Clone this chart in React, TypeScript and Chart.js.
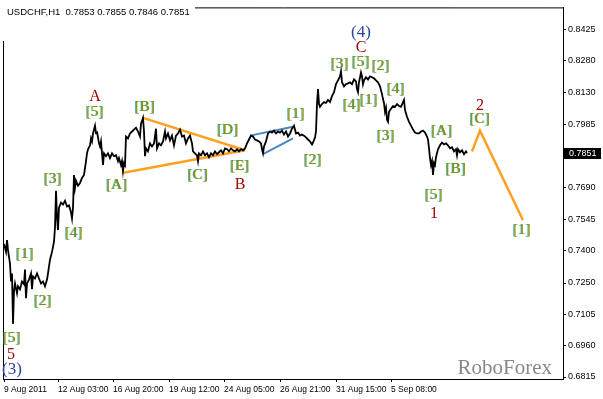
import React, { useEffect, useRef } from "react";
import { Chart, registerables } from "chart.js";

Chart.register(...registerables);

const symbolTitle = "USDCHF,H1  0.7853 0.7855 0.7846 0.7851";
const lastPrice = 0.7851;

// hourly bar index (approx.) and close values
const barIdx = [
  0, 2, 3, 4, 5, 6, 7, 8, 9, 10, 11, 13, 14, 16, 18, 20, 21, 22, 23, 25, 27, 28, 29, 31, 33, 35, 37, 39, 41, 43, 44, 46, 48,
  50, 51, 52, 53, 54, 55, 57, 59, 61, 63, 65, 67, 68, 69, 70, 71, 72, 74, 76, 78, 80, 81, 82, 83, 84, 86, 87, 88, 89, 91,
  92, 93, 95, 96, 97, 99, 100, 102, 104, 106, 108, 110, 112, 114, 115, 117, 118, 119, 120, 121, 122, 124, 126, 128, 130,
  132, 134, 136, 137, 139, 140, 141, 142, 144, 146, 148, 150, 152, 153, 155, 157, 159, 161, 162, 164, 166, 168, 170, 172,
  174, 176, 178, 180, 182, 184, 186, 188, 189, 191, 193, 194, 195, 197, 199, 201, 203, 205, 207, 209, 211, 213, 215, 217,
  219, 221, 223, 225, 227, 229, 231, 233, 235, 237, 239, 241, 243, 245, 247, 249, 251, 253, 255, 257, 258, 259, 260, 262,
  264, 266, 268, 270, 272, 274, 276, 278, 280, 282, 284, 286, 288, 290, 292, 294, 296, 298, 301, 304, 306, 308, 309, 311,
  312, 313, 314, 315, 316, 318, 320, 322, 324, 326, 328, 330, 332, 334, 336, 337, 338, 340, 342, 344, 346, 348, 350, 352,
  353, 354, 355, 357, 358, 359, 360, 362, 364, 366, 368, 370, 372, 374, 376, 378, 379, 380, 381, 382, 383, 384, 385, 387,
  389, 391, 393, 395, 397, 399, 400, 401, 403, 405, 407, 409, 411, 413, 415, 417, 419, 421, 423, 424, 425, 426, 427, 428,
  429, 430, 431, 432, 433, 434, 436, 438, 440, 442, 444, 446, 448, 450, 452, 453, 454, 456, 458, 460, 462, 463,
];
const closes = [
  0.7431, 0.7394, 0.7449, 0.7403, 0.7371, 0.734, 0.7257, 0.7294, 0.7061, 0.7212, 0.7248, 0.7203, 0.7235, 0.7221, 0.7257,
  0.7244, 0.7312, 0.718, 0.7248, 0.7266, 0.7294, 0.7221, 0.728, 0.7271, 0.7294, 0.7271, 0.7248, 0.7257, 0.7235, 0.7266,
  0.7294, 0.7358, 0.7394, 0.744, 0.7508, 0.7677, 0.7554, 0.7495, 0.7599, 0.7622, 0.7613, 0.7631, 0.7604, 0.7609, 0.7577,
  0.7549, 0.7599, 0.775, 0.7691, 0.7723, 0.77, 0.7713, 0.7736, 0.775, 0.7782, 0.7814, 0.785, 0.7869, 0.7887, 0.7919,
  0.7905, 0.7942, 0.7978, 0.7942, 0.7951, 0.7896, 0.7882, 0.7905, 0.7796, 0.785, 0.7837, 0.785, 0.7828, 0.785, 0.7837,
  0.7841, 0.7814, 0.7828, 0.7796, 0.7814, 0.7768, 0.7805, 0.7796, 0.7928, 0.7919, 0.7942, 0.7951, 0.796, 0.7969, 0.7951,
  0.7928, 0.7987, 0.8014, 0.7951, 0.7837, 0.7873, 0.7859, 0.7896, 0.7882, 0.7896, 0.7964, 0.7873, 0.7896, 0.7887, 0.7905,
  0.7951, 0.7919, 0.7942, 0.791, 0.7932, 0.7887, 0.7932, 0.7942, 0.796, 0.7928, 0.7932, 0.7896, 0.7919, 0.7932, 0.7896,
  0.7859, 0.785, 0.7841, 0.7814, 0.785, 0.7841, 0.7859, 0.7841, 0.785, 0.7832, 0.785, 0.7841, 0.7859, 0.7846, 0.7855,
  0.7864, 0.785, 0.7873, 0.7869, 0.7859, 0.7873, 0.7864, 0.7859, 0.7869, 0.7859, 0.7869, 0.7864, 0.7873, 0.7896, 0.7914,
  0.7932, 0.7928, 0.7914, 0.791, 0.7905, 0.7896, 0.7869, 0.785, 0.7882, 0.7905, 0.7942, 0.7951, 0.7946, 0.7955, 0.7942,
  0.7951, 0.7946, 0.7955, 0.7937, 0.7951, 0.7928, 0.7942, 0.7964, 0.7978, 0.7942, 0.7946, 0.7932, 0.7937, 0.7928, 0.7914,
  0.7905, 0.7891, 0.79, 0.7923, 0.7951, 0.8078, 0.8147, 0.8078, 0.8065, 0.8078, 0.8087, 0.8083, 0.8097, 0.8087, 0.8115,
  0.8133, 0.817, 0.8188, 0.8206, 0.8229, 0.8179, 0.816, 0.817, 0.8174, 0.8179, 0.817, 0.8192, 0.8183, 0.8147, 0.8133,
  0.8179, 0.8224, 0.8206, 0.817, 0.8188, 0.8202, 0.8192, 0.8206, 0.8202, 0.8197, 0.8188, 0.8179, 0.816, 0.8124, 0.8101,
  0.8083, 0.8042, 0.806, 0.8005, 0.7996, 0.8042, 0.8056, 0.8069, 0.8065, 0.8078, 0.8069, 0.8065, 0.8087, 0.8097, 0.8051,
  0.8019, 0.7996, 0.7978, 0.796, 0.7946, 0.7942, 0.7942, 0.7951, 0.7955, 0.7946, 0.7928, 0.7914, 0.7873, 0.7828, 0.7796,
  0.7814, 0.775, 0.7805, 0.7796, 0.7832, 0.785, 0.7869, 0.7887, 0.79, 0.7891, 0.7896, 0.7887, 0.7873, 0.7878, 0.7859,
  0.7869, 0.7841, 0.7869, 0.7855, 0.7864, 0.7846, 0.7859, 0.7851,
];

const yTickValues = [0.8425, 0.828, 0.813, 0.7985, 0.769, 0.7545, 0.74, 0.725, 0.7105, 0.696, 0.6815];
const yMin = 0.68058;
const yMax = 0.85253;
const xTickBars = [0, 54, 109, 165, 220, 276, 332, 387];
const xTickLabels = [
  "9 Aug 2011",
  "12 Aug 03:00",
  "16 Aug 20:00",
  "19 Aug 12:00",
  "24 Aug 05:00",
  "26 Aug 21:00",
  "31 Aug 15:00",
  "5 Sep 08:00",
];
const xMin = -1;
const xMax = 559;

// forecast and pattern lines
const forecastBars = [468, 476, 519];
const forecastPrices = [0.7859, 0.7955, 0.754];
const triUpperBars = [139, 241];
const triUpperPrices = [0.8014, 0.7864];
const triLowerBars = [118, 241];
const triLowerPrices = [0.7759, 0.7864];
const wedgeUpperBars = [246, 289];
const wedgeUpperPrices = [0.7932, 0.7973];
const wedgeLowerBars = [259, 289];
const wedgeLowerPrices = [0.7846, 0.7919];

// wave labels
const labelTexts = [
  "[5]", "A", "[3]", "[4]", "[1]", "[2]", "[5]", "5", "(3)", "[A]", "[B]", "[C]", "[D]", "[E]", "B", "[1]", "[2]",
  "(4)", "C", "[3]", "[5]", "[2]", "[4]", "[1]", "[4]", "[3]", "[A]", "[B]", "[5]", "1", "2", "[C]", "[1]",
];
const labelBars = [
  91, 91, 49, 70, 21, 39, 8, 7, 8, 113, 141, 194, 224, 236, 236, 292, 309, 357, 357, 336, 357, 377, 348, 365, 392, 382,
  438, 452, 430, 430, 476, 476, 518,
];
const labelPrices = [
  0.8042, 0.811, 0.7732, 0.7481, 0.7385, 0.7166, 0.6997, 0.692, 0.6851, 0.7704, 0.8065, 0.775, 0.796, 0.7791, 0.7704,
  0.8033, 0.7818, 0.8411, 0.8338, 0.8261, 0.8274, 0.8252, 0.8074, 0.8097, 0.8147, 0.7928, 0.7955, 0.7777, 0.7659,
  0.7568, 0.8069, 0.801, 0.7495,
];
const labelKinds = [
  "g", "r", "g", "g", "g", "g", "g", "r", "b", "g", "g", "g", "g", "g", "r", "g", "g", "b", "r", "g", "g", "g", "g", "g",
  "g", "g", "g", "g", "g", "r", "r", "g", "g",
];

const pts = (xs: number[], ys: number[]) => xs.map((x, i) => ({ x, y: ys[i] }));

const overlayPlugin = {
  id: "overlay",
  beforeDatasetsDraw(chart: any) {
    const { ctx, chartArea: a } = chart;
    ctx.save();
    ctx.font = "21px 'Liberation Serif', serif";
    ctx.fillStyle = "#888888";
    ctx.textAlign = "right";
    ctx.textBaseline = "alphabetic";
    ctx.fillText("RoboForex", a.right - 11, a.bottom - 5);
    ctx.restore();
  },
  afterDraw(chart: any) {
    const { ctx, chartArea: a, scales } = chart;
    const xs = scales.x;
    const ys = scales.y;
    ctx.save();
    ctx.strokeStyle = "#000";
    ctx.lineWidth = 1;
    ctx.beginPath();
    ctx.moveTo(a.left + 0.5, a.bottom);
    ctx.lineTo(a.left + 0.5, a.top + 0.5);
    ctx.lineTo(a.right, a.top + 0.5);
    ctx.stroke();
    ctx.fillStyle = "#fff";
    ctx.fillRect(0, 0, 195, 41);
    ctx.fillStyle = "#000";
    ctx.font = "9.5px 'Liberation Sans', sans-serif";
    ctx.textAlign = "left";
    ctx.textBaseline = "alphabetic";
    ctx.fillText(symbolTitle, 7, 15);

    ctx.textAlign = "center";
    ctx.textBaseline = "middle";
    labelTexts.forEach((t, i) => {
      const x = xs.getPixelForValue(labelBars[i]);
      const y = ys.getPixelForValue(labelPrices[i]);
      const k = labelKinds[i];
      if (k === "g") {
        ctx.font = "15px 'Liberation Serif', serif";
        ctx.fillStyle = "rgba(0,150,150,0.75)";
        ctx.fillText(t, x - 1, y);
        ctx.fillStyle = "#8c8c00";
        ctx.fillText(t, x, y);
      } else if (k === "r") {
        ctx.font = "16px 'Liberation Serif', serif";
        ctx.fillStyle = "#a00000";
        ctx.fillText(t, x, y);
      } else {
        ctx.font = "17px 'Liberation Serif', serif";
        ctx.fillStyle = "#2a44a8";
        ctx.fillText(t, x, y);
      }
    });

    const py = ys.getPixelForValue(lastPrice);
    ctx.fillStyle = "#000";
    ctx.fillRect(a.right + 1, Math.round(py) - 5, 37, 11);
    ctx.fillStyle = "#fff";
    ctx.font = "9px 'Liberation Sans', sans-serif";
    ctx.textAlign = "left";
    ctx.fillText(lastPrice.toFixed(4), a.right + 6, Math.round(py) + 0.5);
    ctx.restore();
  },
};

export default function App() {
  const ref = useRef<HTMLCanvasElement | null>(null);
  useEffect(() => {
    if (!ref.current) return;
    const chart = new Chart(ref.current, {
      type: "line",
      data: {
        datasets: [
          { data: pts(barIdx, closes), borderColor: "#000", borderWidth: 1.8, pointRadius: 0, tension: 0 },
          { data: pts(forecastBars, forecastPrices), borderColor: "#ffa020", borderWidth: 2.5, pointRadius: 0 },
          { data: pts(triUpperBars, triUpperPrices), borderColor: "#ffa020", borderWidth: 2.5, pointRadius: 0 },
          { data: pts(triLowerBars, triLowerPrices), borderColor: "#ffa020", borderWidth: 2.5, pointRadius: 0 },
          { data: pts(wedgeUpperBars, wedgeUpperPrices), borderColor: "#4a86c0", borderWidth: 2, pointRadius: 0 },
          { data: pts(wedgeLowerBars, wedgeLowerPrices), borderColor: "#4a86c0", borderWidth: 2, pointRadius: 0 },
        ],
      },
      options: {
        animation: false,
        responsive: false,
        maintainAspectRatio: false,
        devicePixelRatio: 1,
        layout: { padding: { left: 3, top: 2, right: 0, bottom: 0 } },
        plugins: { legend: { display: false }, tooltip: { enabled: false } },
        scales: {
          x: {
            type: "linear",
            min: xMin,
            max: xMax,
            afterFit: (s: any) => {
              s.height = 20;
            },
            afterBuildTicks: (s: any) => {
              s.ticks = xTickBars.map((v) => ({ value: v }));
            },
            grid: { drawOnChartArea: false, drawTicks: true, tickLength: 3, color: "#000" },
            border: { display: true, color: "#000" },
            ticks: {
              autoSkip: false,
              maxRotation: 0,
              align: "start",
              padding: 3,
              color: "#000",
              font: { family: "'Liberation Sans', sans-serif", size: 8.5 },
              callback: (_v: any, i: number) => xTickLabels[i],
            },
          },
          y: {
            type: "linear",
            position: "right",
            min: yMin,
            max: yMax,
            afterFit: (s: any) => {
              s.width = 40;
            },
            afterBuildTicks: (s: any) => {
              s.ticks = yTickValues.map((v) => ({ value: v }));
            },
            grid: { drawOnChartArea: false, drawTicks: true, tickLength: 3, color: "#000" },
            border: { display: true, color: "#000" },
            ticks: {
              padding: 2,
              color: "#000",
              font: { family: "'Liberation Sans', sans-serif", size: 9 },
              callback: (v: any) => Number(v).toFixed(4),
            },
          },
        },
      },
      plugins: [overlayPlugin],
    });
    return () => chart.destroy();
  }, []);
  return (
    <div style={{ position: "absolute", left: 0, top: 0, width: 603, height: 399, background: "#fff" }}>
      <canvas ref={ref} width={603} height={399} style={{ display: "block" }} />
    </div>
  );
}
